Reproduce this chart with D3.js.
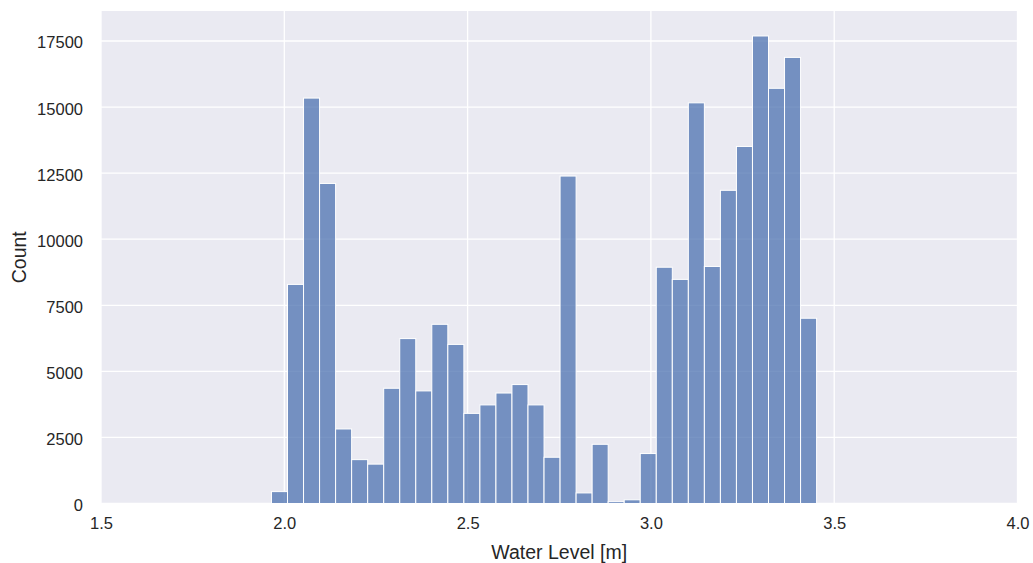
<!DOCTYPE html>
<html>
<head>
<meta charset="utf-8">
<script src="https://cdn.jsdelivr.net/npm/d3@7"></script>
<style>
  html, body { margin: 0; padding: 0; background: #ffffff; }
  svg { display: block; }
</style>
</head>
<body>
<svg id="chart" width="1033" height="563"></svg>
<script>
// ---- data ----
const binMin = 1.965;
const binMax = 3.452;
const counts = [450, 8290, 15340, 12110, 2820, 1660, 1490, 4360, 6240, 4260,
                6780, 6020, 3410, 3730, 4180, 4500, 3730, 1750, 12390, 400,
                2240, 70, 140, 1890, 8940, 8480, 15160, 8970, 11850, 13510,
                17690, 15710, 16880, 7010];
const xTicks = [1.5, 2.0, 2.5, 3.0, 3.5, 4.0];
const yTicks = [0, 2500, 5000, 7500, 10000, 12500, 15000, 17500];
const xLabel = "Water Level [m]";
const yLabel = "Count";

// ---- layout ----
const W = 1033, H = 563;
const m = { left: 101, right: 1017.5, top: 11, bottom: 503.5 };
const svg = d3.select("#chart");

const x = d3.scaleLinear().domain([1.5, 4.0]).range([m.left, m.right]);
const y = d3.scaleLinear().domain([0, 18635]).range([m.bottom, m.top]);

const binW = (binMax - binMin) / counts.length;
const bins = counts.map((c, i) => ({ x0: binMin + i * binW, x1: binMin + (i + 1) * binW, c }));

// background
svg.append("rect").attr("x", m.left).attr("y", m.top)
  .attr("width", m.right - m.left).attr("height", m.bottom - m.top)
  .attr("fill", "#eaeaf2");

// grid
const grid = svg.append("g");
grid.selectAll("line.gy").data(yTicks).join("line")
  .attr("x1", m.left).attr("x2", m.right)
  .attr("y1", d => y(d)).attr("y2", d => y(d))
  .attr("stroke", "#ffffff").attr("stroke-width", 1.3);
grid.selectAll("line.gx").data(xTicks).join("line")
  .attr("y1", m.top).attr("y2", m.bottom)
  .attr("x1", d => x(d)).attr("x2", d => x(d))
  .attr("stroke", "#ffffff").attr("stroke-width", 1.3);

// bars
svg.append("g").selectAll("rect").data(bins).join("rect")
  .attr("x", d => x(d.x0))
  .attr("width", d => x(d.x1) - x(d.x0))
  .attr("y", d => y(d.c))
  .attr("height", d => y(0) - y(d.c))
  .attr("fill", "rgba(76,114,176,0.75)")
  .attr("stroke", "#ffffff")
  .attr("stroke-width", 1);

const font = "'Liberation Sans', Arial, sans-serif";
const txt = "#262626";

// x axis
const xAxis = svg.append("g").attr("transform", `translate(0,${m.bottom})`)
  .call(d3.axisBottom(x).tickValues(xTicks).tickFormat(d3.format(".1f")).tickSize(0).tickPadding(14));
xAxis.select(".domain").remove();
xAxis.selectAll("text").attr("font-family", font).attr("font-size", 16.5).attr("fill", txt);

// y axis
const yAxis = svg.append("g").attr("transform", `translate(${m.left},0)`)
  .call(d3.axisLeft(y).tickValues(yTicks).tickFormat(d3.format("d")).tickSize(0).tickPadding(18));
yAxis.select(".domain").remove();
yAxis.selectAll("text").attr("font-family", font).attr("font-size", 16.5).attr("fill", txt)
  .attr("dy", "0.42em");

// labels
svg.append("text").attr("x", (m.left + m.right) / 2).attr("y", 559)
  .attr("text-anchor", "middle").attr("font-family", font).attr("font-size", 19.5)
  .attr("fill", txt).text(xLabel);
svg.append("text").attr("transform", `translate(26,${(m.top + m.bottom) / 2}) rotate(-90)`)
  .attr("text-anchor", "middle").attr("font-family", font).attr("font-size", 19.5)
  .attr("fill", txt).text(yLabel);
</script>
</body>
</html>
